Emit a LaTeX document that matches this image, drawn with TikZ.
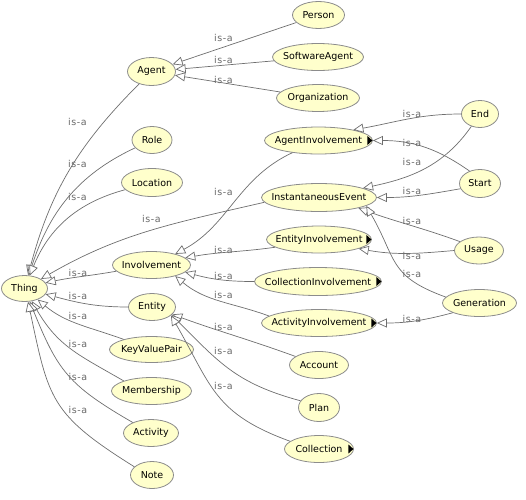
\documentclass[tikz,border=0pt]{standalone}
\usepackage{fontspec}
\setmainfont{DejaVu Sans}
\newfontfamily\lblfont[LetterSpace=6]{DejaVu Sans}
\usetikzlibrary{arrows.meta,shapes.geometric}
\definecolor{nodefill}{RGB}{255,255,204}
\definecolor{nodeborder}{RGB}{140,140,140}
\definecolor{edgecol}{RGB}{110,110,110}
\definecolor{lblcol}{RGB}{105,105,105}
\newcommand\clsname[1]{\makebox[0pt]{#1}}
\tikzset{
  cls/.style={ellipse, draw=nodeborder, fill=nodefill, inner sep=0pt, line width=0.8pt,
    font=\fontsize{9.5}{11}\selectfont},
  isa/.style={draw=edgecol, line width=0.7pt, -{Triangle[length=10pt,width=9pt,fill=white]}},
  lbl/.style={text=lblcol, font=\lblfont\fontsize{9.5}{10}\selectfont, inner sep=0pt},
  more/.style={fill=black},
}
\begin{document}
\begin{tikzpicture}[x=1pt,y=1pt]
\useasboundingbox (0,0) rectangle (526,-499);
% nodes
\node[cls, minimum width=46pt, minimum height=26pt] (Thing) at (24.5,-288.5) {\clsname{Thing}};
\node[cls, minimum width=48pt, minimum height=28pt] (Agent) at (151.5,-71.5) {\clsname{Agent}};
\node[cls, minimum width=40pt, minimum height=27pt] (Role) at (152,-140) {\clsname{Role}};
\node[cls, minimum width=61pt, minimum height=28pt] (Location) at (152,-182.5) {\clsname{Location}};
\node[cls, minimum width=52pt, minimum height=27pt] (Person) at (318.5,-15) {\clsname{Person}};
\node[cls, minimum width=91pt, minimum height=27pt] (SoftwareAgent) at (318,-57) {\clsname{SoftwareAgent}};
\node[cls, minimum width=83pt, minimum height=27pt] (Organization) at (318,-98) {\clsname{Organization}};
\node[cls, minimum width=108pt, minimum height=27pt] (AI) at (318.5,-140.5) {\clsname{AgentInvolvement}};
\node[cls, minimum width=115pt, minimum height=28pt] (IE) at (319,-197.5) {\clsname{InstantaneousEvent}};
\node[cls, minimum width=37pt, minimum height=27pt] (End) at (480,-114) {\clsname{End}};
\node[cls, minimum width=41pt, minimum height=28pt] (Start) at (480,-183.5) {\clsname{Start}};
\node[cls, minimum width=105pt, minimum height=27pt] (EI) at (319,-239.5) {\clsname{EntityInvolvement}};
\node[cls, minimum width=49pt, minimum height=27pt] (Usage) at (479,-250.5) {\clsname{Usage}};
\node[cls, minimum width=78pt, minimum height=27pt] (Involvement) at (151.5,-265) {\clsname{Involvement}};
\node[cls, minimum width=127pt, minimum height=28pt] (CI) at (318,-281.5) {\clsname{CollectionInvolvement}};
\node[cls, minimum width=74pt, minimum height=27pt] (Generation) at (479.5,-303) {\clsname{Generation}};
\node[cls, minimum width=115pt, minimum height=27pt] (ActI) at (319,-323) {\clsname{ActivityInvolvement}};
\node[cls, minimum width=47pt, minimum height=27pt] (Entity) at (152,-307) {\clsname{Entity}};
\node[cls, minimum width=84pt, minimum height=26pt] (KVP) at (151.5,-349.5) {\clsname{KeyValuePair}};
\node[cls, minimum width=80pt, minimum height=27pt] (Membership) at (151.5,-391) {\clsname{Membership}};
\node[cls, minimum width=55pt, minimum height=27pt] (Activity) at (151,-433) {\clsname{Activity}};
\node[cls, minimum width=43pt, minimum height=27pt] (Note) at (152,-475) {\clsname{Note}};
\node[cls, minimum width=59pt, minimum height=27pt] (Account) at (319,-365) {\clsname{Account}};
\node[cls, minimum width=41pt, minimum height=28pt] (Plan) at (319,-407.5) {\clsname{Plan}};
\node[cls, minimum width=69pt, minimum height=27pt] (Collection) at (319,-449) {\clsname{Collection}};
% expand markers
\foreach \n in {AI,EI,CI,ActI,Collection}{
  \fill[more] ([xshift=-5.5pt,yshift=4.5pt]\n.east) -- ([xshift=-5.5pt,yshift=-4.5pt]\n.east) -- ([xshift=-0.5pt]\n.east) -- cycle;
}
% edges to Agent
\draw[isa] (Person) -- (Agent);
\draw[isa] (SoftwareAgent) -- (Agent);
\draw[isa] (Organization) -- (Agent);
% edges to Thing
\draw[isa] (Agent.225) to[out=225,in=75] (Thing.75);
\draw[isa] (Role.205) to[out=205,in=72] (Thing.72);
\draw[isa] (Location.195) to[out=195,in=68] (Thing.68);
\draw[isa] (IE.185) to[out=193,in=30] (Thing.30);
\draw[isa] (Involvement.190) to[out=190,in=12] (Thing.15);
\draw[isa] (Entity.west) to[out=180,in=-15] (Thing.-15);
\draw[isa] (KVP.160) to[out=160,in=-40] (Thing.-40);
\draw[isa] (Membership.160) to[out=150,in=-60,looseness=1.1] (Thing.-60);
\draw[isa] (Activity.150) to[out=150,in=-68,looseness=1.2] (Thing.-68);
\draw[isa] (Note.155) to[out=148,in=-78,looseness=1.3] (Thing.-75);
% edges to Involvement
\draw[isa] (AI.205) to[out=205,in=28] (Involvement.25);
\draw[isa] (EI.190) to[out=188,in=10] (Involvement.12);
\draw[isa] (CI.west) to[out=180,in=-15] (Involvement.-12);
\draw[isa] (ActI.172) to[out=160,in=-40] (Involvement.-25);
% edges to Entity
\draw[isa] (Account.160) to[out=160,in=-20] (Entity.-20);
\draw[isa] (Plan.160) to[out=165,in=-45,looseness=1.1] (Entity.-22);
\draw[isa] (Collection.165) to[out=160,in=-60,looseness=1.2] (Entity.-24);
% right-hand edges
\draw[isa] (End.west) to[out=180,in=10] (AI.17);
\draw[isa] (Start.130) to[out=145,in=0] (AI.east);
\draw[isa] (End.235) to[out=235,in=12] (IE.12);
\draw[isa] (Start.195) to[out=190,in=0] (IE.east);
\draw[isa] (Usage.155) to[out=160,in=-20] (IE.-15);
\draw[isa] (Usage.west) to[out=185,in=-10] (EI.-13);
\draw[isa] (Generation.170) to[out=160,in=-60,looseness=1.3] (IE.-10);
\draw[isa] (Generation.200) to[out=195,in=0] (ActI.east);
% labels
\node[lbl] (l1) at (223.5,-38) {is-a};
\node[lbl] (l2) at (223.5,-60) {is-a};
\node[lbl] (l3) at (223.5,-79.5) {is-a};
\node[lbl] (l4) at (77.5,-122) {is-a};
\node[lbl] (l5) at (77.5,-164) {is-a};
\node[lbl] (l6) at (77.5,-197) {is-a};
\node[lbl] (l7) at (151.5,-219) {is-a};
\node[lbl] (l8) at (78,-273) {is-a};
\node[lbl] (l9) at (78,-296) {is-a};
\node[lbl] (l10) at (78,-316) {is-a};
\node[lbl] (l11) at (78,-344) {is-a};
\node[lbl] (l12) at (78,-377) {is-a};
\node[lbl] (l13) at (78,-410) {is-a};
\node[lbl] (l14) at (223.5,-192) {is-a};
\node[lbl] (l15) at (223.5,-249.5) {is-a};
\node[lbl] (l16) at (223.5,-275.5) {is-a};
\node[lbl] (l17) at (223.5,-294.5) {is-a};
\node[lbl] (l18) at (223.5,-327) {is-a};
\node[lbl] (l19) at (223.5,-350.5) {is-a};
\node[lbl] (l20) at (223.5,-385.5) {is-a};
\node[lbl] (l21) at (412,-113.5) {is-a};
\node[lbl] (l22) at (412,-143) {is-a};
\node[lbl] (l23) at (412,-162) {is-a};
\node[lbl] (l24) at (412,-190.5) {is-a};
\node[lbl] (l25) at (412,-220.5) {is-a};
\node[lbl] (l26) at (412,-255.5) {is-a};
\node[lbl] (l27) at (412,-274) {is-a};
\node[lbl] (l28) at (412,-319) {is-a};
\end{tikzpicture}
\end{document}
